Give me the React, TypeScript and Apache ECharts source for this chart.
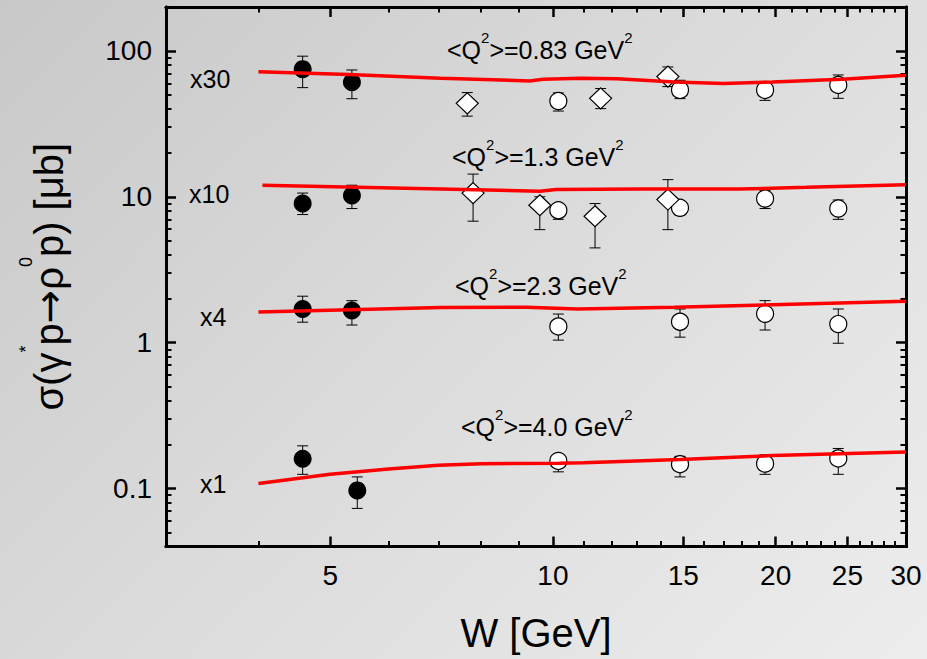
import React, { useEffect, useRef } from "react";
import * as echarts from "echarts";

const FONT = "'Liberation Sans', Arial, Helvetica, sans-serif";

// Axis ticks (W in GeV, sigma in microbarn)
const X_MAJOR = [5, 10, 15, 20, 25, 30];
const X_MINOR = [3, 4, 6, 7, 8, 9, 11, 12, 13, 14, 16, 17, 18, 19, 21, 22, 23, 24, 26, 27, 28, 29];
const Y_MAJOR = [0.1, 1, 10, 100];
const Y_MINOR = [
  0.04, 0.05, 0.06, 0.07, 0.08, 0.09,
  0.2, 0.3, 0.4, 0.5, 0.6, 0.7, 0.8, 0.9,
  2, 3, 4, 5, 6, 7, 8, 9,
  20, 30, 40, 50, 60, 70, 80, 90, 200,
];
const X_MIN = 3;
const X_MAX = 30;
const Y_MIN = 0.04;
const Y_MAX = 200;

// <Q^2> = 0.83 GeV^2 (x30)
const A_FILLED_W = [4.59, 5.35];
const A_FILLED_S = [75, 61];
const A_FILLED_LO = [56, 47];
const A_FILLED_HI = [92, 74];
const A_OPEN_W = [10.17, 14.85, 19.35, 24.3];
const A_OPEN_S = [45.3, 54, 54, 58.4];
const A_OPEN_LO = [38.7, 47.1, 45.8, 47.3];
const A_OPEN_HI = [51.5, 62.9, 60, 68.4];
const A_DIAM_W = [7.66, 11.6, 14.3];
const A_DIAM_S = [43.7, 47.3, 66.7];
const A_DIAM_LO = [35.7, 40.2, 56.9];
const A_DIAM_HI = [51.8, 55.2, 77.6];
const A_CURVE_W = [4.0, 5.3, 7.05, 9.3, 9.7, 10.9, 12.2, 14.6, 17.0, 19.8, 24.6, 30];
const A_CURVE_S = [72, 69, 65, 62.2, 63.9, 64.9, 64.5, 61.3, 59.7, 61.3, 63.9, 68];

// <Q^2> = 1.3 GeV^2 (x10)
const B_FILLED_W = [4.59, 5.35];
const B_FILLED_S = [9.0, 10.2];
const B_FILLED_LO = [7.55, 8.3];
const B_FILLED_HI = [10.6, 12.0];
const B_OPEN_W = [10.17, 14.85, 19.35, 24.3];
const B_OPEN_S = [8.08, 8.4, 9.72, 8.3];
const B_OPEN_LO = [7.0, 7.5, 8.3, 7.0];
const B_OPEN_HI = [9.0, 9.2, 11.0, 9.5];
const B_DIAM_W = [7.8, 9.6, 11.4, 14.3];
const B_DIAM_S = [10.6, 8.75, 7.35, 9.57];
const B_DIAM_LO = [6.8, 5.95, 4.46, 5.95];
const B_DIAM_HI = [14.3, 10.0, 8.98, 13.1];
const B_CURVE_W = [4.05, 7.05, 9.6, 10.1, 13.1, 17.9, 22.0, 30];
const B_CURVE_S = [12.0, 11.3, 10.9, 11.2, 11.3, 11.3, 11.6, 12.1];

// <Q^2> = 2.3 GeV^2 (x4)
const C_FILLED_W = [4.59, 5.35];
const C_FILLED_S = [1.7, 1.66];
const C_FILLED_LO = [1.38, 1.32];
const C_FILLED_HI = [2.08, 1.94];
const C_OPEN_W = [10.17, 14.85, 19.35, 24.3];
const C_OPEN_S = [1.29, 1.39, 1.575, 1.34];
const C_OPEN_LO = [1.04, 1.09, 1.22, 0.99];
const C_OPEN_HI = [1.57, 1.7, 1.94, 1.7];
const C_CURVE_W = [4.0, 7.05, 9.2, 10.8, 14.6, 19.8, 30];
const C_CURVE_S = [1.62, 1.74, 1.75, 1.7, 1.75, 1.82, 1.92];

// <Q^2> = 4.0 GeV^2 (x1)
const D_FILLED_W = [4.59, 5.44];
const D_FILLED_S = [0.16, 0.097];
const D_FILLED_LO = [0.125, 0.073];
const D_FILLED_HI = [0.196, 0.12];
const D_OPEN_W = [10.17, 14.85, 19.35, 24.3];
const D_OPEN_S = [0.1545, 0.1466, 0.148, 0.1605];
const D_OPEN_LO = [0.13, 0.12, 0.125, 0.125];
const D_OPEN_HI = [0.17, 0.166, 0.17, 0.188];
const D_CURVE_W = [4.0, 5.0, 6.0, 7.0, 8.0, 10.2, 11.0, 14.85, 19.8, 30];
const D_CURVE_S = [0.108, 0.125, 0.136, 0.144, 0.148, 0.149, 0.15, 0.158, 0.168, 0.178];

const LABELS = [
  { text: "x30", x: 190, y: 79 },
  { text: "x10", x: 189, y: 194 },
  { text: "x4", x: 200, y: 317 },
  { text: "x1", x: 200, y: 484 },
];
const Q2_LABELS = [
  { value: "0.83", x: 447, y: 50 },
  { value: "1.3", x: 452, y: 157 },
  { value: "2.3", x: 455, y: 286 },
  { value: "4.0", x: 461, y: 427 },
];

const lg = (v: number) => Math.log10(v);
const pts = (w: number[], s: number[]) => w.map((x, i) => [lg(x), lg(s[i])]);
const errs = (w: number[], lo: number[], hi: number[]) =>
  w.map((x, i) => [lg(x), lg(lo[i]), lg(hi[i])]);

const FILLED = [
  ...pts(A_FILLED_W, A_FILLED_S),
  ...pts(B_FILLED_W, B_FILLED_S),
  ...pts(C_FILLED_W, C_FILLED_S),
  ...pts(D_FILLED_W, D_FILLED_S),
];
const OPEN = [
  ...pts(A_OPEN_W, A_OPEN_S),
  ...pts(B_OPEN_W, B_OPEN_S),
  ...pts(C_OPEN_W, C_OPEN_S),
  ...pts(D_OPEN_W, D_OPEN_S),
];
const DIAM = [...pts(A_DIAM_W, A_DIAM_S), ...pts(B_DIAM_W, B_DIAM_S)];
const ERRS = [
  ...errs(A_FILLED_W, A_FILLED_LO, A_FILLED_HI),
  ...errs(A_OPEN_W, A_OPEN_LO, A_OPEN_HI),
  ...errs(A_DIAM_W, A_DIAM_LO, A_DIAM_HI),
  ...errs(B_FILLED_W, B_FILLED_LO, B_FILLED_HI),
  ...errs(B_OPEN_W, B_OPEN_LO, B_OPEN_HI),
  ...errs(B_DIAM_W, B_DIAM_LO, B_DIAM_HI),
  ...errs(C_FILLED_W, C_FILLED_LO, C_FILLED_HI),
  ...errs(C_OPEN_W, C_OPEN_LO, C_OPEN_HI),
  ...errs(D_FILLED_W, D_FILLED_LO, D_FILLED_HI),
  ...errs(D_OPEN_W, D_OPEN_LO, D_OPEN_HI),
];
const CURVES = [
  pts(A_CURVE_W, A_CURVE_S),
  pts(B_CURVE_W, B_CURVE_S),
  pts(C_CURVE_W, C_CURVE_S),
  pts(D_CURVE_W, D_CURVE_S),
];

function makeXAxis(major: boolean, position: string, labels: boolean) {
  const vals = (major ? X_MAJOR : X_MINOR).map(lg);
  return {
    type: "value",
    min: lg(X_MIN),
    max: lg(X_MAX),
    position,
    axisLine: { show: true, onZero: false, lineStyle: { color: "#000", width: 3 } },
    axisTick: {
      show: true,
      inside: true,
      length: major ? 10 : 5.5,
      customValues: vals,
      lineStyle: { color: "#000", width: major ? 2.5 : 2 },
    },
    axisLabel: labels
      ? {
          show: true,
          customValues: vals,
          formatter: (v: number) => String(Math.round(Math.pow(10, v))),
          fontSize: 28,
          fontFamily: FONT,
          color: "#000",
          margin: 15,
        }
      : { show: false },
    splitLine: { show: false },
    ...(labels
      ? {
          name: "W [GeV]",
          nameLocation: "middle",
          nameGap: 66,
          nameTextStyle: { fontSize: 40, fontFamily: FONT, color: "#000" },
        }
      : {}),
  };
}

function makeYAxis(major: boolean, position: string, labels: boolean) {
  const vals = (major ? Y_MAJOR : Y_MINOR).map(lg);
  return {
    type: "value",
    min: lg(Y_MIN),
    max: lg(Y_MAX),
    position,
    axisLine: { show: true, onZero: false, lineStyle: { color: "#000", width: 3 } },
    axisTick: {
      show: true,
      inside: true,
      length: major ? 10 : 5.5,
      customValues: vals,
      lineStyle: { color: "#000", width: major ? 2.5 : 2 },
    },
    axisLabel: labels
      ? {
          show: true,
          customValues: vals,
          formatter: (v: number) => {
            const n = Math.pow(10, v);
            return n >= 1 ? String(Math.round(n)) : n.toFixed(1);
          },
          fontSize: 28,
          fontFamily: FONT,
          color: "#000",
          margin: 14,
        }
      : { show: false },
    splitLine: { show: false },
    ...(labels
      ? {
          name: "{n|σ(γ}{s|*}{n|p}{a|→}{n|ρ}{s|0}{n|p) [μb]}",
          nameLocation: "middle",
          nameGap: 81,
          nameTextStyle: {
            fontFamily: FONT,
            color: "#000",
            rich: {
              n: { fontSize: 40, lineHeight: 72, fontFamily: FONT, color: "#000" },
              a: { fontSize: 40, lineHeight: 72, fontFamily: "'DejaVu Sans', sans-serif", color: "#000" },
              s: { fontSize: 18, lineHeight: 18, verticalAlign: "top", fontFamily: FONT, color: "#000", padding: [4, 0, 0, 0] },
            },
          },
        }
      : {}),
  };
}

const errStyle = { stroke: "#000", lineWidth: 1 };

export default function App() {
  const ref = useRef<HTMLDivElement>(null);

  useEffect(() => {
    document.body.style.margin = "0";
    const chart = echarts.init(ref.current!, null, { renderer: "svg" });

    const richQ = {
      a: { fontSize: 25, lineHeight: 41, fontFamily: FONT, fill: "#000" },
      b: { fontSize: 15, lineHeight: 15, verticalAlign: "top", fontFamily: FONT, fill: "#000" },
    };

    const graphic: any[] = [
      ...LABELS.map((l) => ({
        type: "text",
        x: l.x,
        y: l.y,
        z: 10,
        style: {
          text: l.text,
          fontSize: 25,
          fontFamily: FONT,
          fill: "#000",
          verticalAlign: "middle",
          align: "left",
        },
      })),
      ...Q2_LABELS.map((l) => ({
        type: "text",
        x: l.x,
        y: l.y,
        z: 10,
        style: {
          text: `{a|<Q}{b|2}{a|>=${l.value} GeV}{b|2}`,
          rich: richQ,
          fontFamily: FONT,
          fill: "#000",
          verticalAlign: "middle",
          align: "left",
        },
      })),
    ];

    const option: any = {
      animation: false,
      backgroundColor: "transparent",
      grid: {
        left: 166,
        right: 21,
        top: 7,
        bottom: 112.5,
        containLabel: false,
        outerBoundsMode: "none",
      },
      xAxis: [
        makeXAxis(true, "bottom", true),
        makeXAxis(true, "top", false),
        makeXAxis(false, "bottom", false),
        makeXAxis(false, "top", false),
      ],
      yAxis: [
        makeYAxis(true, "left", true),
        makeYAxis(true, "right", false),
        makeYAxis(false, "left", false),
        makeYAxis(false, "right", false),
      ],
      graphic,
      series: [
        {
          type: "custom",
          name: "errors",
          xAxisIndex: 0,
          yAxisIndex: 0,
          z: 2,
          silent: true,
          encode: { x: 0, y: [1, 2] },
          data: ERRS,
          renderItem: (_params: any, api: any) => {
            const x = api.value(0);
            const top = api.coord([x, api.value(2)]);
            const bot = api.coord([x, api.value(1)]);
            const cw = 5.5;
            return {
              type: "group",
              children: [
                { type: "line", shape: { x1: top[0], y1: top[1], x2: bot[0], y2: bot[1] }, style: errStyle },
                { type: "line", shape: { x1: top[0] - cw, y1: top[1], x2: top[0] + cw, y2: top[1] }, style: errStyle },
                { type: "line", shape: { x1: bot[0] - cw, y1: bot[1], x2: bot[0] + cw, y2: bot[1] }, style: errStyle },
              ],
            };
          },
        },
        {
          type: "scatter",
          name: "filled",
          z: 3,
          silent: true,
          symbol: "circle",
          symbolSize: 18,
          itemStyle: { color: "#000", opacity: 1 },
          data: FILLED,
        },
        {
          type: "scatter",
          name: "open",
          z: 3,
          silent: true,
          symbol: "circle",
          symbolSize: 17,
          itemStyle: { color: "#fff", borderColor: "#000", borderWidth: 1.2, opacity: 1 },
          data: OPEN,
        },
        {
          type: "scatter",
          name: "diamond",
          z: 3,
          silent: true,
          symbol: "diamond",
          symbolSize: [22, 21],
          itemStyle: { color: "#fff", borderColor: "#000", borderWidth: 1.2, opacity: 1 },
          data: DIAM,
        },
        ...CURVES.map((c, i) => ({
          type: "line",
          name: "curve" + i,
          z: 4,
          silent: true,
          showSymbol: false,
          symbol: "none",
          smooth: false,
          lineStyle: { color: "#ff0000", width: 3.5 },
          data: c,
        })),
      ],
    };

    chart.setOption(option);
    return () => chart.dispose();
  }, []);

  return (
    <div
      ref={ref}
      style={{
        position: "absolute",
        left: 0,
        top: 0,
        width: 927,
        height: 659,
        background: "linear-gradient(135deg, #c8c8c8 0%, #dadada 45%, #ededed 100%)",
      }}
    />
  );
}
